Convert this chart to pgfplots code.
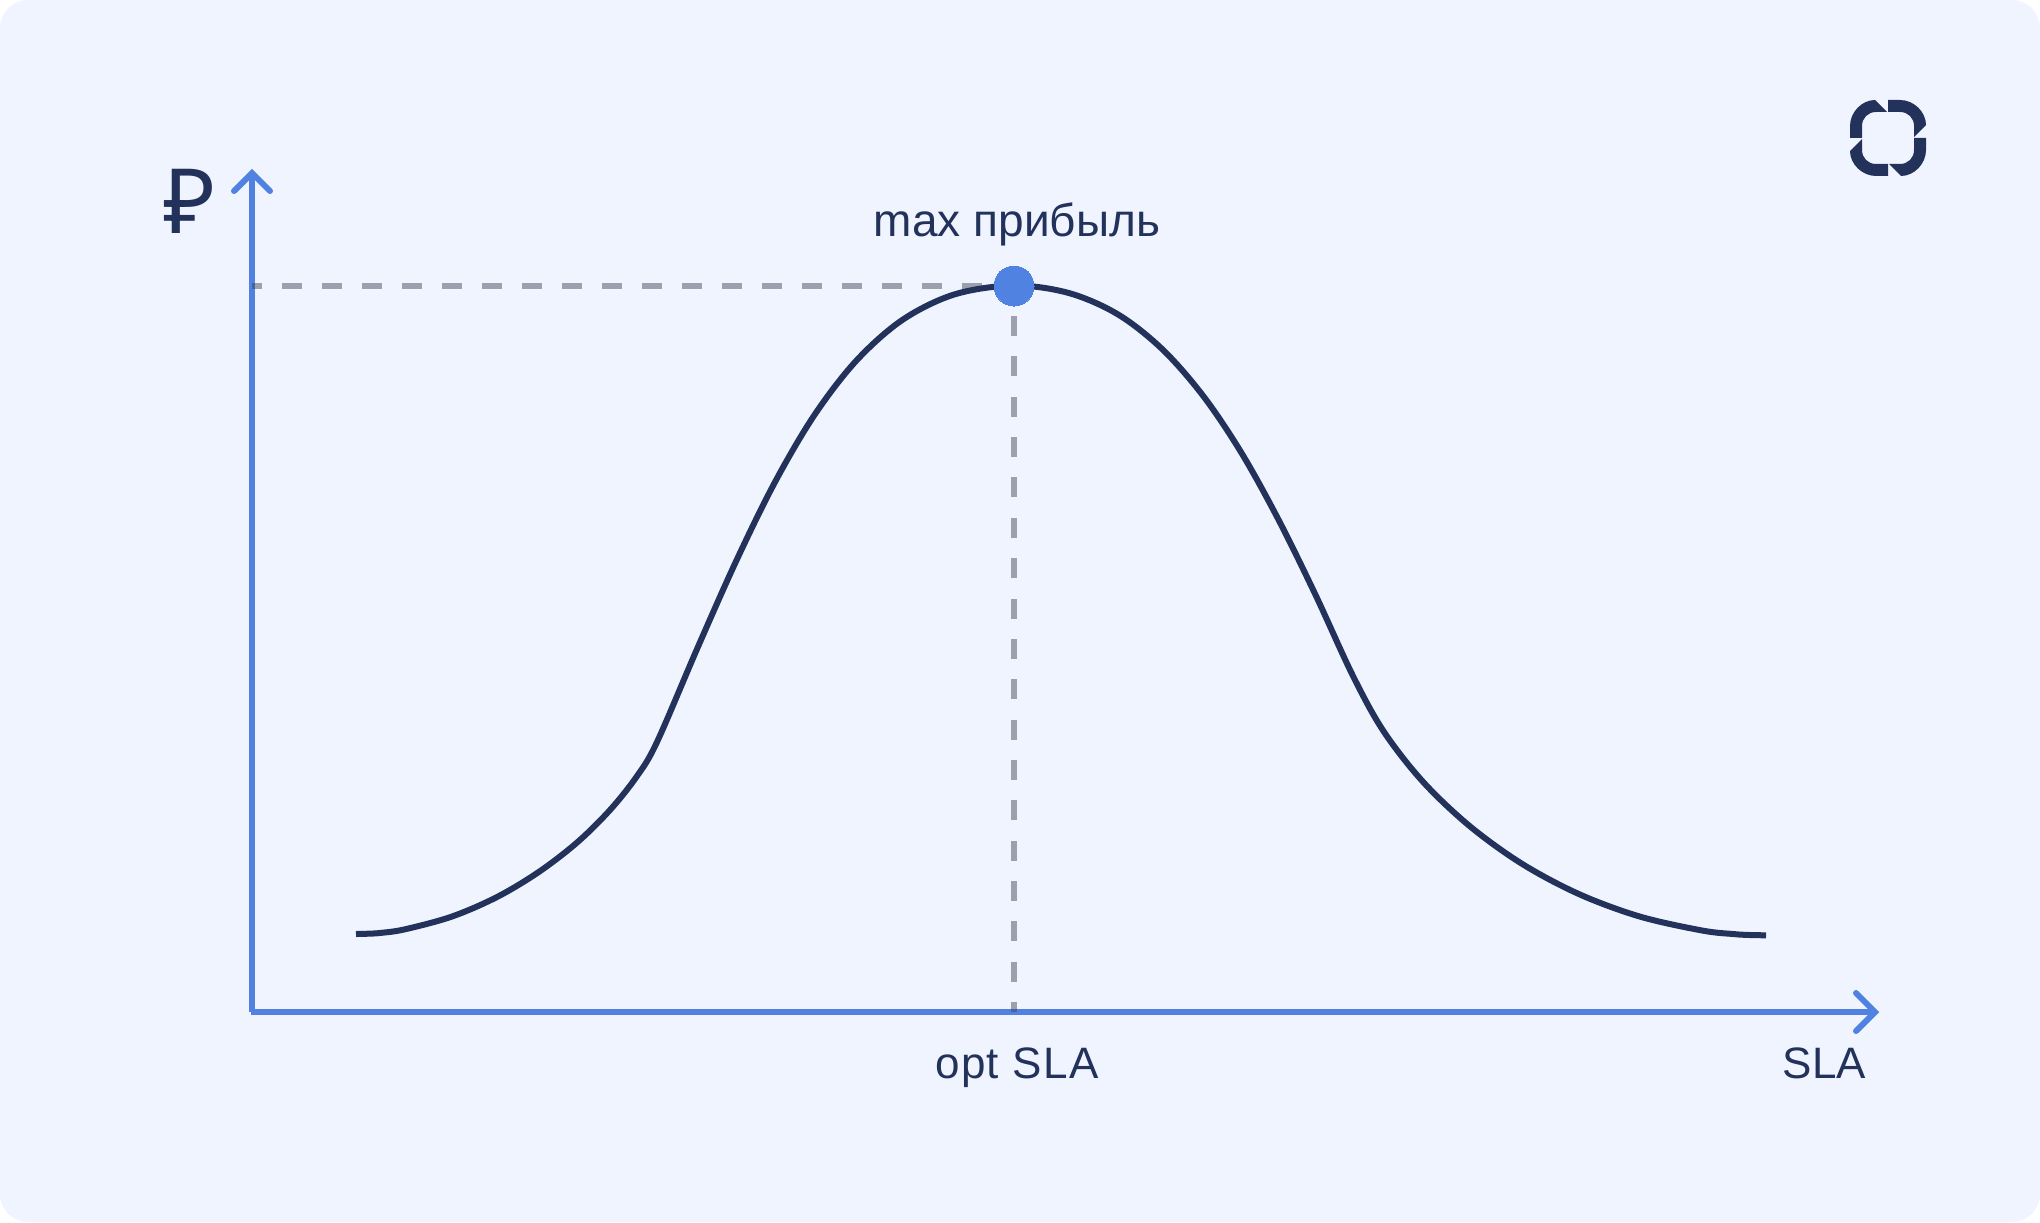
\documentclass[border=0pt]{standalone}
\usepackage{pgfplots}
\pgfplotsset{compat=1.18}
\usepackage{fontspec}
\setmainfont{Liberation Sans}
\newfontfamily\symfont{Noto Sans}
\definecolor{bgc}{HTML}{EFF4FF}
\definecolor{ink}{HTML}{22325A}
\definecolor{axblue}{HTML}{5082E2}
\definecolor{dashc}{HTML}{3A3F50}
\begin{document}
\begin{tikzpicture}
\begin{axis}[
  scale only axis, width=1020pt, height=611pt,
  xmin=0, xmax=2040, ymin=0, ymax=1222,
  y dir=reverse, hide axis, clip=false]
\fill[bgc, rounded corners=14pt] (axis cs:0,0) rectangle (axis cs:2040,1222);
% axes
\addplot[axblue, line width=3pt, line cap=butt] coordinates {(252,1012) (252,175)};
\addplot[axblue, line width=3pt, line cap=round, line join=miter] coordinates {(234,191) (252,173) (270,191)};
\addplot[axblue, line width=3pt, line cap=butt] coordinates {(250.5,1012) (1873,1012)};
\addplot[axblue, line width=3pt, line cap=round, line join=miter] coordinates {(1856,993) (1875,1012) (1856,1031)};
% guides
\addplot[dashc, opacity=.46, line width=3pt, dash pattern=on 10pt off 10pt, dash phase=5pt] coordinates {(252,286) (1000,286)};
\addplot[dashc, opacity=.46, line width=3pt, dash pattern=on 10pt off 10.175pt, dash phase=5pt] coordinates {(1014,1012) (1014,300)};
% curve
\addplot[ink, line width=3pt, smooth, tension=0.55, line cap=butt] coordinates {
(356,934) (368,933.7) (380.5,932.9) (404.5,929.4) (451.7,916.6) (497,897) (539,871.8) (577.3,842.3) (610.1,809.9) (637,776.1)
(657,742) (697.8,647.2) (736.6,560.1) (774.8,482.4) (814.1,415.5) (856.1,360.9) (902.4,319.9) (954.5,294.4)
(1014,285.5) (1069.1,293.1) (1118.3,314.6) (1162.6,349.5) (1203.4,396.2) (1241.6,453.1) (1278.5,519.7) (1315.3,594.4)
(1353,676) (1383.8,731.6) (1423.1,781.9) (1469.7,826.1) (1522,863.8) (1579,894.1) (1639.7,916.5) (1702.1,930.5)
(1734.2,934.1) (1750,935) (1766,935.3)};
% optimum
\addplot[only marks, mark=*, mark size=10pt, mark options={draw=axblue, fill=axblue, line width=0pt}] coordinates {(1014,286)};
% labels
\node[ink, anchor=base, inner sep=0pt, font=\fontsize{23}{23}\selectfont] at (axis cs:1017,236) {max прибыль};
\node[ink, anchor=base, inner sep=0pt, font=\fontsize{22}{22}\selectfont\addfontfeature{LetterSpace=3}] at (axis cs:1017,1078) {opt SLA};
\node[ink, anchor=base, inner sep=0pt, font=\fontsize{22}{22}\selectfont] at (axis cs:1824.5,1078) {SLA};
\node[ink, anchor=base, inner sep=0pt, font=\symfont\fontsize{45}{45}\selectfont] at (axis cs:189.5,233) {₽};
\end{axis}
% logo
\begin{scope}[shift={(944pt,542pt)}, x=0.5pt, y=-0.5pt]
\foreach \a in {0,90,180,270}{
  \fill[ink, rotate=\a] (0,-38) -- (12,-38) .. controls (26,-38) and (38,-26) .. (38,-13)
    -- (26,-1) -- (26,-12) .. controls (26,-20) and (20,-26) .. (12,-26) -- (0,-26) -- cycle;
}
\end{scope}
\end{tikzpicture}
\end{document}
